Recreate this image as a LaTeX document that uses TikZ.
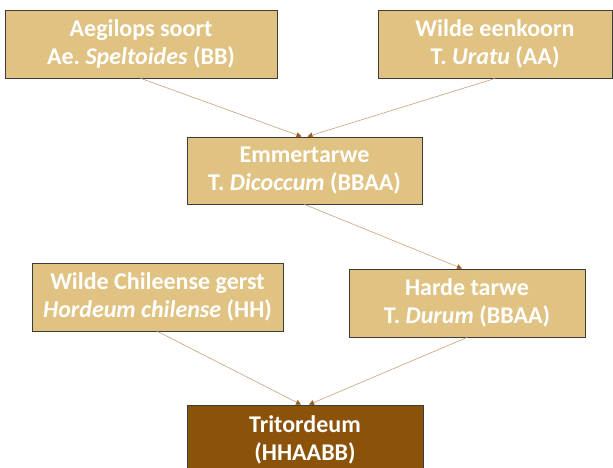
\documentclass[tikz,border=0pt]{standalone}
\usepackage{fontspec}
\setmainfont{Carlito}
\usetikzlibrary{arrows.meta}
\definecolor{tanfill}{RGB}{224,195,130}
\definecolor{darkfill}{RGB}{139,82,10}
\definecolor{boxline}{RGB}{60,60,60}
\definecolor{linkline}{RGB}{200,160,120}
\definecolor{tipcol}{RGB}{150,95,35}
\begin{document}
\begin{tikzpicture}[x=1pt,y=-1pt,
  species/.style={draw=boxline, line width=0.9pt, fill=tanfill, text=white,
    font=\fontsize{24}{28.5}\selectfont\bfseries, align=center,
    minimum height=68pt, inner sep=0pt},
  result/.style={species, fill=darkfill},
  link/.style={draw=linkline, line width=0.6pt,
    -{Triangle[length=5pt,width=5pt,color=tipcol]}}]
\useasboundingbox (0,0) rectangle (613,468);
\node[species, minimum width=272pt] (aeg) at (141,44) {Aegilops soort\\Ae.\ \textit{Speltoides} (BB)};
\node[species, minimum width=234pt] (een) at (495,44) {Wilde eenkoorn\\T.\ \textit{Uratu} (AA)};
\node[species, minimum width=235pt, minimum height=67pt] (emm) at (304.5,170.5) {Emmertarwe\\T.\ \textit{Dicoccum} (BBAA)};
\node[species, minimum width=251pt] (chi) at (157.5,297) {Wilde Chileense gerst\\\textit{Hordeum chilense} (HH)};
\node[species, minimum width=236pt] (har) at (467,303) {Harde tarwe\\T.\ \textit{Durum} (BBAA)};
\node[result, minimum width=236pt, minimum height=70pt] (tri) at (305,440) {Tritordeum\\(HHAABB)};
\draw[link] (aeg.south) -- ([xshift=-3pt]emm.north);
\draw[link] (een.south) -- ([xshift=3pt]emm.north);
\draw[link] (emm.south) -- ([xshift=-5pt]har.north);
\draw[link] (chi.south) -- ([xshift=-4pt]tri.north);
\draw[link] (har.south) -- ([xshift=4pt]tri.north);
\end{tikzpicture}
\end{document}
